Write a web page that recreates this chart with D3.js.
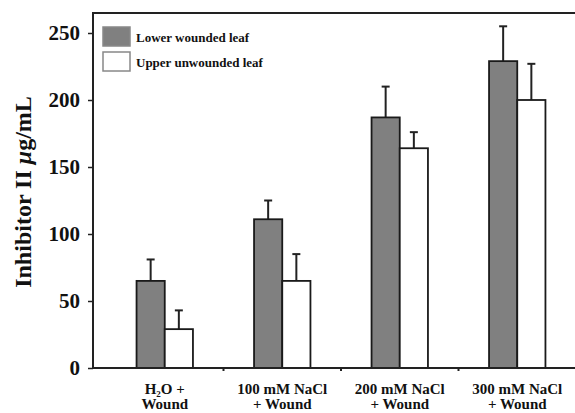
<!DOCTYPE html>
<html>
<head>
<meta charset="utf-8">
<script src="https://cdn.jsdelivr.net/npm/d3@7"></script>
<style>
  html, body { margin: 0; padding: 0; background: #fff; }
  svg { display: block; }
  text { font-family: "Liberation Serif", "Times New Roman", serif; font-weight: bold; fill: #111; }
</style>
</head>
<body>
<svg id="chart" width="575" height="413"></svg>
<script>
const categories = ["H2O + Wound", "100 mM NaCl + Wound", "200 mM NaCl + Wound", "300 mM NaCl + Wound"];
const categoryLines = [["H₂O +", "Wound"], ["100 mM NaCl", "+ Wound"], ["200 mM NaCl", "+ Wound"], ["300 mM NaCl", "+ Wound"]];
const seriesNames = ["Lower wounded leaf", "Upper unwounded leaf"];
const lowerValues = [65, 111, 187, 229];
const lowerErrors = [16, 14, 23, 26];
const upperValues = [29, 65, 164, 200];
const upperErrors = [14, 20, 12, 27];
const yTicks = [0, 50, 100, 150, 200, 250];

const svg = d3.select("#chart");
const mLeft = 93, mRight = 575, mTop = 13, mBottom = 368;

const x0 = d3.scaleBand().domain(categories).range([106, 576]).paddingInner(0.52).paddingOuter(0.26);
const x1 = d3.scaleBand().domain(seriesNames).range([0, x0.bandwidth()]);
const y = d3.scaleLinear().domain([0, 250]).range([mBottom, 33]);

const colors = { "Lower wounded leaf": "#808080", "Upper unwounded leaf": "#ffffff" };

const data = categories.map((c, i) => ({
  cat: c,
  bars: [
    { s: seriesNames[0], v: lowerValues[i], e: lowerErrors[i] },
    { s: seriesNames[1], v: upperValues[i], e: upperErrors[i] }
  ]
}));

// frame top line
svg.append("line").attr("x1", mLeft).attr("x2", mRight).attr("y1", mTop).attr("y2", mTop)
  .attr("stroke", "#222").attr("stroke-width", 2);

// bars
const g = svg.selectAll("g.grp").data(data).enter().append("g")
  .attr("transform", d => `translate(${x0(d.cat)},0)`);

g.selectAll("line.err").data(d => d.bars).enter().append("line")
  .attr("x1", d => x1(d.s) + x1.bandwidth() / 2)
  .attr("x2", d => x1(d.s) + x1.bandwidth() / 2)
  .attr("y1", d => y(d.v)).attr("y2", d => y(d.v + d.e))
  .attr("stroke", "#222").attr("stroke-width", 2);
g.selectAll("line.cap").data(d => d.bars).enter().append("line")
  .attr("x1", d => x1(d.s) + x1.bandwidth() / 2 - 4)
  .attr("x2", d => x1(d.s) + x1.bandwidth() / 2 + 4)
  .attr("y1", d => y(d.v + d.e)).attr("y2", d => y(d.v + d.e))
  .attr("stroke", "#222").attr("stroke-width", 2);

g.selectAll("rect").data(d => d.bars).enter().append("rect")
  .attr("x", d => x1(d.s))
  .attr("width", x1.bandwidth())
  .attr("y", d => y(d.v))
  .attr("height", d => y(0) - y(d.v))
  .attr("fill", d => colors[d.s])
  .attr("stroke", "#1a1a1a").attr("stroke-width", 1.8);

// y axis
const yAxis = d3.axisLeft(y).tickValues(yTicks).tickSize(5).tickPadding(8);
const ya = svg.append("g").attr("transform", `translate(${mLeft},0)`).call(yAxis);
ya.select(".domain").remove();
ya.selectAll(".tick line").attr("stroke", "#222").attr("stroke-width", 1.5);
ya.selectAll(".tick text").attr("font-size", 21).style("font-family", "'Liberation Serif', 'Times New Roman', serif").style("font-weight", "bold").attr("fill", "#111");
svg.append("line").attr("x1", mLeft).attr("x2", mLeft).attr("y1", mTop - 1).attr("y2", mBottom + 1)
  .attr("stroke", "#222").attr("stroke-width", 2);

// x axis
const xa = svg.append("g").attr("transform", `translate(0,${mBottom})`);
xa.append("line").attr("x1", mLeft).attr("x2", mRight).attr("y1", 0).attr("y2", 0)
  .attr("stroke", "#222").attr("stroke-width", 2);
const bounds = categories.slice(1).map(c => x0(c) - x0.step() * x0.paddingInner() / 2);
xa.selectAll("line.tk").data(bounds).enter().append("line")
  .attr("x1", d => d).attr("x2", d => d).attr("y1", 0).attr("y2", 3)
  .attr("stroke", "#222").attr("stroke-width", 2);

const lbl = svg.selectAll("text.cat").data(categories).enter().append("text")
  .attr("class", "cat")
  .attr("text-anchor", "middle")
  .attr("font-size", 15)
  .attr("x", d => x0(d) + x0.bandwidth() / 2)
  .attr("y", 394);
lbl.each(function(d, i) {
  const t = d3.select(this);
  categoryLines[i].forEach((line, j) => {
    t.append("tspan").attr("x", x0(d) + x0.bandwidth() / 2).attr("dy", j === 0 ? 0 : 15).text(line);
  });
});

// y title
svg.append("text")
  .attr("transform", "translate(31,192) rotate(-90)")
  .attr("text-anchor", "middle")
  .attr("font-size", 24)
  .call(t => {
    t.append("tspan").text("Inhibitor II ");
    t.append("tspan").attr("font-style", "italic").text("μ");
    t.append("tspan").text("g/mL");
  });

// legend
const lg = svg.append("g").selectAll("g").data(seriesNames).enter().append("g")
  .attr("transform", (d, i) => `translate(103,${27 + i * 25})`);
lg.append("rect").attr("width", 27).attr("height", 19)
  .attr("fill", d => colors[d]).attr("stroke", "#888").attr("stroke-width", 1.5);
lg.append("text").attr("x", 33).attr("y", 14.5).attr("font-size", 13).text(d => d);
</script>
</body>
</html>
